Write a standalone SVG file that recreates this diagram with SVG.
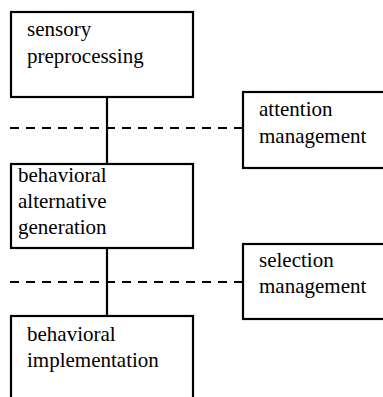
<svg xmlns="http://www.w3.org/2000/svg" width="383" height="397" viewBox="0 0 383 397">
<style>
.box{fill:#fff;stroke:#000;stroke-width:2.2}
.t{font-size:21px;fill:#000}
.solid{stroke:#000;stroke-width:2.2;fill:none}
.dash{stroke:#000;stroke-width:1.8;fill:none;stroke-dasharray:9 7}
</style>
<rect width="383" height="397" fill="#fff"/>
<g id="connectors">
<line class="solid" x1="107" y1="97" x2="107" y2="164"/>
<line class="solid" x1="107" y1="248" x2="107" y2="316"/>
<line class="dash" x1="10" y1="128" x2="243" y2="128"/>
<line class="dash" x1="10" y1="282" x2="243" y2="282"/>
</g>
<g font-family="'Liberation Serif', 'Times New Roman', Times, serif">
<g id="sensory">
<rect class="box" x="11" y="12" width="182" height="85"/>
<text class="t" x="27" y="36">sensory</text>
<text class="t" x="27" y="63">preprocessing</text>
</g>
<g id="attention">
<rect class="box" x="243" y="92" width="150" height="76"/>
<text class="t" x="259" y="116">attention</text>
<text class="t" x="259" y="143">management</text>
</g>
<g id="generation">
<rect class="box" x="11" y="164" width="182" height="84"/>
<text class="t" x="18" y="182">behavioral</text>
<text class="t" x="18" y="208">alternative</text>
<text class="t" x="18" y="234">generation</text>
</g>
<g id="selection">
<rect class="box" x="243" y="244" width="150" height="75"/>
<text class="t" x="259" y="267">selection</text>
<text class="t" x="259" y="293">management</text>
</g>
<g id="implementation">
<rect class="box" x="11" y="316" width="182" height="100"/>
<text class="t" x="27" y="341">behavioral</text>
<text class="t" x="27" y="367">implementation</text>
</g>
</g>
</svg>
